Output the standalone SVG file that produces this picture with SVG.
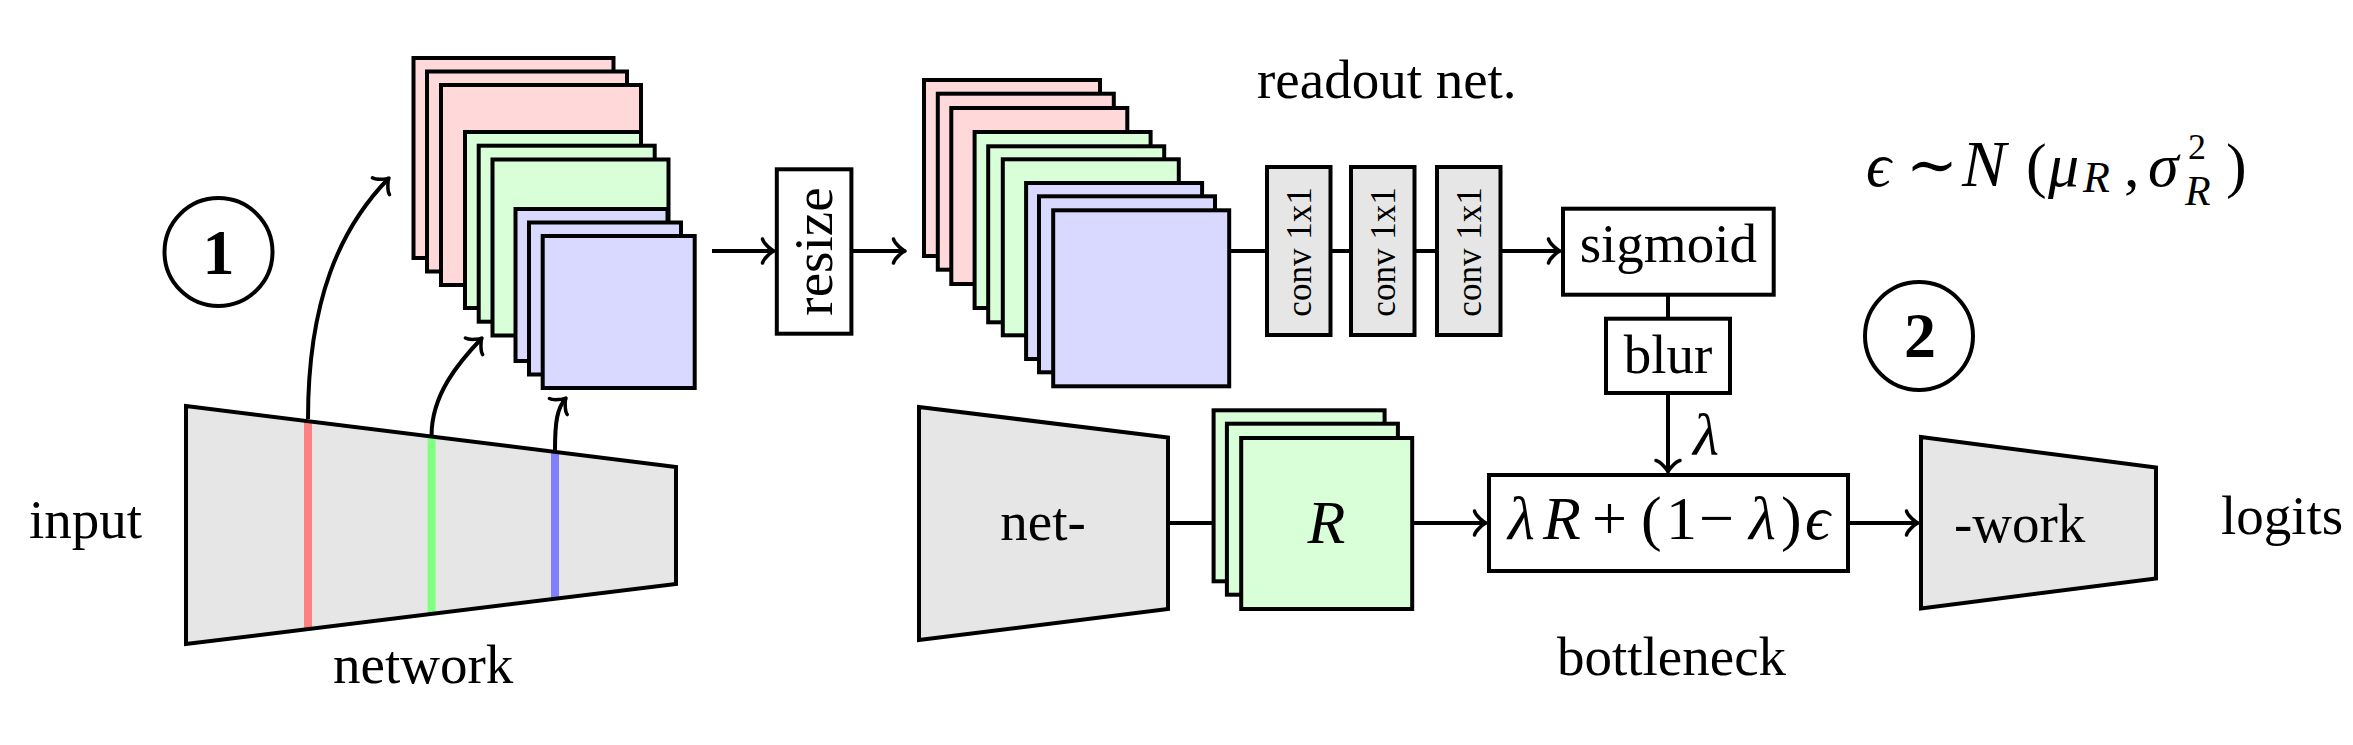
<svg xmlns="http://www.w3.org/2000/svg" width="2353" height="745" viewBox="0 0 2353 745">
<style>
text{font-family:"Liberation Serif","DejaVu Serif",serif;fill:#000}
.t{font-size:55px}
.it{font-style:italic}
.ln{fill:none;stroke:#000;stroke-width:4}
.box{fill:#fff;stroke:#000;stroke-width:4}
.gr{fill:#e6e6e6;stroke:#000;stroke-width:4}
.pk{fill:#ffd9d9;stroke:#000;stroke-width:4}
.gn{fill:#d9ffd9;stroke:#000;stroke-width:4}
.bl{fill:#d9d9ff;stroke:#000;stroke-width:4}
.circ{fill:none;stroke:#000;stroke-width:4}
.num{font-size:64px;font-weight:bold;text-anchor:middle}
</style>
<defs>
<marker id="arr" markerUnits="userSpaceOnUse" viewBox="-20 -20 40 40" markerWidth="40" markerHeight="40" refX="0" refY="0" orient="auto" overflow="visible">
<path d="M-11.5,12 C-10.5,7.5 -2.5,0.8 0,0 C-2.5,-0.8 -10.5,-7.5 -11.5,-12" fill="none" stroke="#000" stroke-width="3.5" stroke-linecap="round" stroke-linejoin="round"/>
</marker>
</defs>

<g id="connectors">
<path class="ln" d="M308,419 C308,300 340,228 389,178" marker-end="url(#arr)"/>
<path class="ln" d="M431.6,435 C431.6,395 458,363 482,338" marker-end="url(#arr)"/>
<path class="ln" d="M555,450 C555,422 557,408 566,398" marker-end="url(#arr)"/>
<path class="ln" d="M712,251 H774" marker-end="url(#arr)"/>
<path class="ln" d="M853,251 H905" marker-end="url(#arr)"/>
<path class="ln" d="M1229,251 H1560" marker-end="url(#arr)"/>
<path class="ln" d="M1668,294.7 V318.7"/>
<path class="ln" d="M1668,393 V472" marker-end="url(#arr)"/>
<path class="ln" d="M1168,523 H1213.6"/>
<path class="ln" d="M1411.7,523 H1486" marker-end="url(#arr)"/>
<path class="ln" d="M1848,523 H1918" marker-end="url(#arr)"/>
<text class="it" x="1693" y="455" font-size="60">λ</text>
</g>

<g id="input-label"><text class="t" x="29" y="538">input</text></g>

<g id="network">
<polygon points="186,406 676,467 676,584 186,644" fill="#e6e6e6"/>
<line x1="308" y1="421" x2="308" y2="629" stroke="#ff8080" stroke-width="8"/>
<line x1="431.6" y1="436" x2="431.6" y2="614" stroke="#80ff80" stroke-width="8"/>
<line x1="555" y1="452" x2="555" y2="599" stroke="#8080ff" stroke-width="8"/>
<polygon points="186,406 676,467 676,584 186,644" fill="none" stroke="#000" stroke-width="4"/>
<text class="t" x="333" y="683" font-size="57">network</text>
</g>

<g id="step1">
<circle class="circ" cx="218.5" cy="252" r="54"/>
<text class="num" x="218.5" y="274">1</text>
</g>

<g id="features">
<rect class="pk" x="413.5" y="58" width="200" height="200"/>
<rect class="pk" x="427" y="71.5" width="200" height="200"/>
<rect class="pk" x="441" y="85" width="200" height="200"/>
<rect class="gn" x="465" y="132" width="176" height="176"/>
<rect class="gn" x="478.7" y="145.7" width="176" height="176"/>
<rect class="gn" x="492.5" y="159.5" width="176" height="176"/>
<rect class="bl" x="515.5" y="209" width="152" height="152"/>
<rect class="bl" x="529" y="222.5" width="152" height="152"/>
<rect class="bl" x="542.7" y="236" width="152" height="152"/>
</g>

<g id="resize">
<rect class="box" x="776.8" y="169.3" width="74.6" height="164.4"/>
<text class="t" transform="translate(832,251.5) rotate(-90)" text-anchor="middle" font-size="54">resize</text>
</g>

<g id="resized-features">
<rect class="pk" x="924" y="80" width="176" height="176"/>
<rect class="pk" x="937.8" y="93.7" width="176" height="176"/>
<rect class="pk" x="951.3" y="108" width="176" height="176"/>
<rect class="gn" x="974.6" y="132" width="176" height="176"/>
<rect class="gn" x="988.2" y="146.3" width="176" height="176"/>
<rect class="gn" x="1002.8" y="159.3" width="176" height="176"/>
<rect class="bl" x="1026.1" y="183" width="176" height="176"/>
<rect class="bl" x="1039" y="196.3" width="176" height="176"/>
<rect class="bl" x="1053.2" y="210.3" width="176" height="176"/>
</g>

<g id="readout-label"><text class="t" x="1257" y="98" font-size="54">readout net.</text></g>

<g id="conv1">
<rect class="gr" x="1267" y="167" width="63.5" height="168"/>
<text transform="translate(1311,252) rotate(-90)" text-anchor="middle" font-size="35">conv 1x1</text>
</g>
<g id="conv2">
<rect class="gr" x="1351" y="167" width="63.5" height="168"/>
<text transform="translate(1395,252) rotate(-90)" text-anchor="middle" font-size="35">conv 1x1</text>
</g>
<g id="conv3">
<rect class="gr" x="1437" y="167" width="63.5" height="168"/>
<text transform="translate(1481,252) rotate(-90)" text-anchor="middle" font-size="35">conv 1x1</text>
</g>

<g id="sigmoid">
<rect class="box" x="1563" y="208.7" width="210.7" height="86"/>
<text class="t" x="1668.3" y="262" text-anchor="middle" font-size="53">sigmoid</text>
</g>

<g id="blur">
<rect class="box" x="1606" y="318.7" width="124" height="74.3"/>
<text class="t" x="1668" y="373" text-anchor="middle" font-size="53">blur</text>
</g>

<g id="noise">
<text font-size="62" y="186"><tspan x="1866" class="it">ϵ</tspan><tspan x="1906">∼</tspan><tspan x="1962" class="it" font-size="66">N</tspan><tspan x="2026">(</tspan><tspan x="2048" class="it">μ</tspan><tspan x="2083" y="192" font-size="44" class="it">R</tspan><tspan x="2124" y="186">,</tspan><tspan x="2148" class="it">σ</tspan></text>
<text font-size="36" x="2188" y="159">2</text>
<text font-size="42" class="it" x="2185" y="205">R</text>
<text font-size="62" x="2226" y="186">)</text>
</g>

<g id="step2">
<circle class="circ" cx="1919" cy="336" r="54"/>
<text class="num" x="1920" y="357">2</text>
</g>

<g id="net-">
<polygon class="gr" points="919,407 1168,437.5 1168,609 919,640"/>
<text class="t" x="1043" y="540" text-anchor="middle" font-size="57">net-</text>
</g>

<g id="R">
<rect class="gn" x="1213.6" y="410.3" width="171" height="171"/>
<rect class="gn" x="1226.9" y="423.7" width="171" height="171"/>
<rect class="gn" x="1241.2" y="438" width="171" height="171"/>
<text class="it" x="1326.5" y="543" text-anchor="middle" font-size="62">R</text>
</g>

<g id="bottleneck">
<rect class="box" x="1489" y="475" width="359" height="96"/>
<text font-size="62" y="539"><tspan x="1508" class="it">λ</tspan><tspan x="1543" class="it">R</tspan><tspan x="1592">+</tspan><tspan x="1641">(</tspan><tspan x="1666">1</tspan><tspan x="1699">−</tspan><tspan x="1749" class="it">λ</tspan><tspan x="1781">)</tspan><tspan x="1805" class="it">ϵ</tspan></text>
<text class="t" x="1557" y="675" font-size="54">bottleneck</text>
</g>

<g id="-work">
<polygon class="gr" points="1921,437 2156,467.5 2156,578.5 1921,608.5"/>
<text class="t" x="1954" y="542" font-size="59">-work</text>
</g>

<g id="logits-label"><text class="t" x="2221" y="534" font-size="53">logits</text></g>
</svg>
